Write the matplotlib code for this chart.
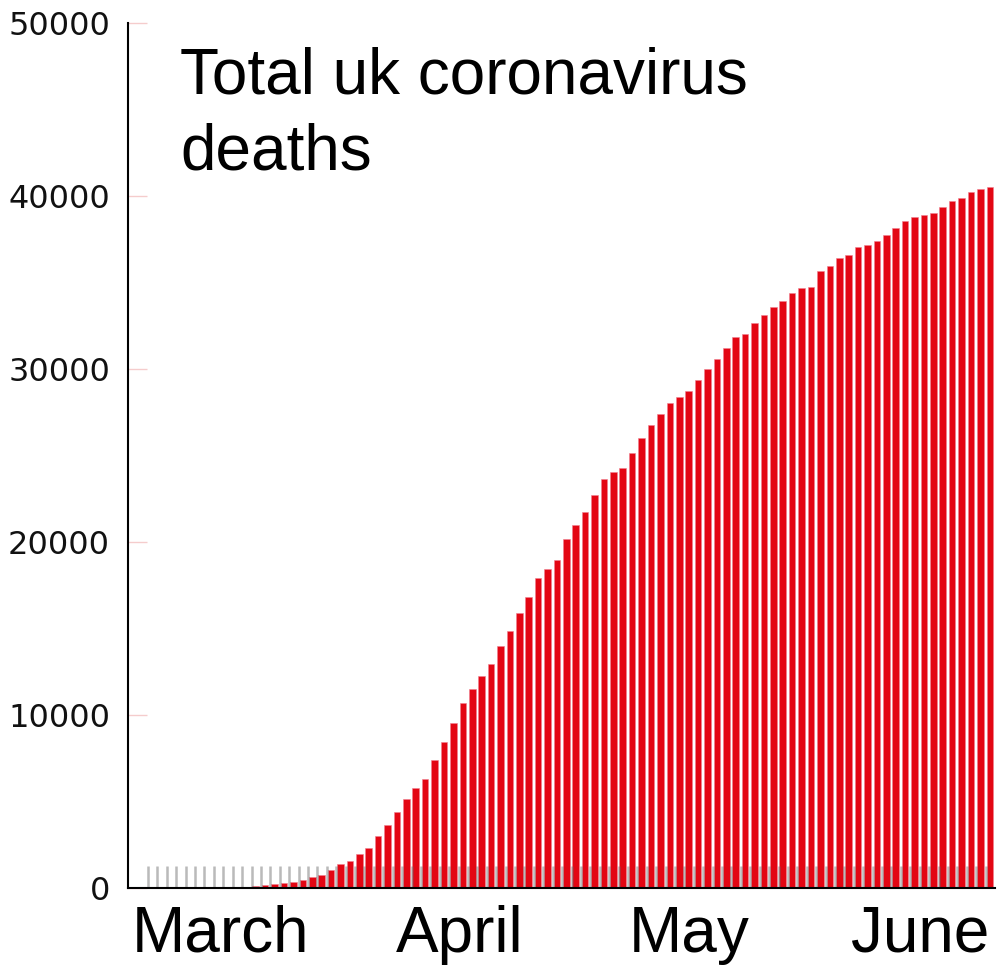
import matplotlib
matplotlib.use("Agg")
import matplotlib.pyplot as plt
import numpy as np

# cumulative UK coronavirus deaths, one bar per day
deaths = [
    1, 1, 2, 3, 5, 8, 12, 18, 30, 50,
    80, 120, 170, 230, 300, 380, 470, 625, 760, 1080,
    1390, 1580, 1960, 2350, 3000, 3680, 4400, 5180, 5810, 6330,
    7390, 8450, 9530, 10700, 11500, 12240, 12930, 14010, 14840, 15880,
    16820, 17940, 18440, 18990, 20180, 21000, 21730, 22710, 23670, 24050,
    24300, 25150, 26040, 26750, 27420, 28050, 28390, 28710, 29370, 30000,
    30580, 31200, 31830, 32020, 32640, 33120, 33600, 33930, 34410, 34660,
    34760, 35640, 35970, 36390, 36590, 37070, 37180, 37370, 37760, 38160,
    38550, 38780, 38900, 39030, 39340, 39680, 39880, 40200, 40380, 40530,
]
months = ["March", "April", "May", "June"]
month_pos = [7.3, 32.7, 57.1, 81.6]
yticks = [0, 10000, 20000, 30000, 40000, 50000]

days = np.arange(len(deaths))

fig = plt.figure(figsize=(9.98, 9.67), dpi=100)
ax = fig.add_axes([0.1283, 0.0814, 0.8687, 0.8951])

ax.bar(days, deaths, width=0.7, color="#e30613", edgecolor="#f08090", linewidth=0.4, zorder=1)

ax.set_xlim(-2.57, 89.55)
ax.set_ylim(0, 50000)

for s in ["top", "right"]:
    ax.spines[s].set_visible(False)
ax.spines["left"].set_linewidth(1.5)
ax.spines["bottom"].set_linewidth(1.5)

# grey day ticks along the bottom, drawn over the bars
ax.set_xticks(days - 0.45)
ax.set_xticklabels([])
ax.tick_params(axis="x", which="major", direction="in", length=15.5,
               width=1.8, color=(0.4, 0.4, 0.4, 0.45))
ax.set_xticks(month_pos, minor=True)
ax.set_xticklabels(months, minor=True, fontsize=46, family="Liberation Sans")
ax.tick_params(axis="x", which="minor", length=0, pad=12)

ax.set_yticks(yticks)
ax.set_yticklabels([str(v) for v in yticks], fontsize=23, color="#111111")
ax.tick_params(axis="y", direction="in", length=14, width=1, color="#f5cccc", pad=13)

fig.text(180 / 998, 1 - 46 / 967, "Total uk coronavirus\ndeaths", fontsize=46,
         family="Liberation Sans", va="top", ha="left", linespacing=1.35)

fig.savefig("out.png", dpi=100)
